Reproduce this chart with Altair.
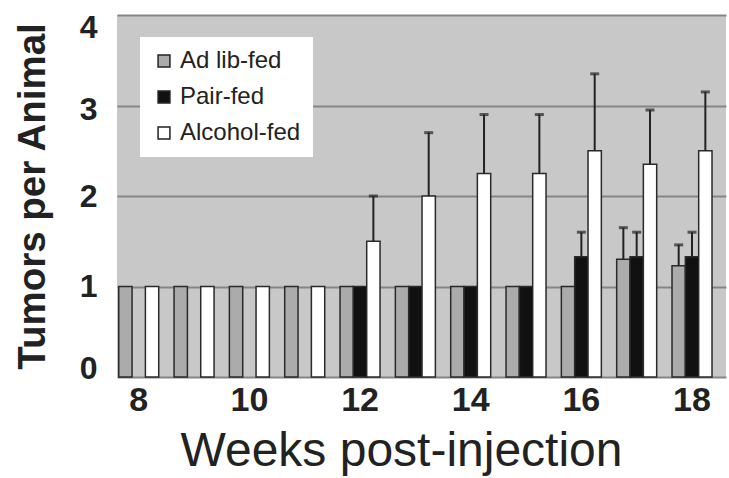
import altair as alt
import pandas as pd

weeks = [8, 9, 10, 11, 12, 13, 14, 15, 16, 17, 18]
groups = ["Ad lib-fed", "Pair-fed", "Alcohol-fed"]
ad_lib = [1, 1, 1, 1, 1, 1, 1, 1, 1, 1.3, 1.23]
ad_lib_err = [None, None, None, None, None, None, None, None, None, 0.35, 0.23]
pair_fed = [None, None, None, None, 1, 1, 1, 1, 1.33, 1.33, 1.33]
pair_fed_err = [None, None, None, None, None, None, None, None, 0.27, 0.27, 0.27]
alcohol = [1, 1, 1, 1, 1.5, 2.0, 2.25, 2.25, 2.5, 2.35, 2.5]
alcohol_err = [None, None, None, None, 0.5, 0.7, 0.65, 0.65, 0.85, 0.6, 0.65]
fills = ["#ababab", "#111111", "#ffffff"]
x_tick_values = [8, 10, 12, 14, 16, 18]
y_tick_values = [0, 1, 2, 3, 4]

rows = []
for g, vals, errs in [(groups[0], ad_lib, ad_lib_err),
                      (groups[1], pair_fed, pair_fed_err),
                      (groups[2], alcohol, alcohol_err)]:
    for w, v, e in zip(weeks, vals, errs):
        if v is None:
            continue
        rows.append({"week": w, "group": g, "value": v,
                     "top": (v + e) if e is not None else None})
df = pd.DataFrame(rows)

FONT = "Liberation Sans"

x_scale = alt.Scale(paddingInner=0.277, paddingOuter=0.142, align=0.11)
x_enc = alt.X("week:O", scale=x_scale,
              axis=alt.Axis(values=x_tick_values, labelAngle=0, ticks=False, domain=False,
                            labelFont=FONT, labelFontSize=34, labelFontWeight="bold",
                            labelColor="#222", labelPadding=6,
                            title="Weeks post-injection", titleFont=FONT,
                            titleFontSize=48, titleFontWeight="normal", titleColor="#222",
                            titleX=284, titleY=88, titleBaseline="alphabetic",
                            titleAlign="center", titleAnchor="start"))
x_plain = alt.X("week:O", scale=x_scale)
xoff = alt.XOffset("group:N", scale=alt.Scale(domain=groups, paddingInner=0, paddingOuter=0))

y_scale = alt.Scale(domain=[0, 4], nice=False)
y_enc = alt.Y("value:Q", scale=y_scale,
              axis=alt.Axis(values=y_tick_values, format="d", ticks=False, domain=False,
                            grid=True, gridColor="#858585", gridWidth=2,
                            labelFont=FONT, labelFontSize=32, labelFontWeight="bold",
                            labelColor="#222", labelPadding=20,
                            labelOffset={"condition": [
                                {"test": "datum.value === 4", "value": 12},
                                {"test": "datum.value === 3", "value": 4},
                                {"test": "datum.value === 0", "value": -9}],
                                "value": 0},
                            title="Tumors per Animal", titleFont=FONT, titleFontSize=38.5,
                            titleFontWeight="bold", titleColor="#222",
                            titleAngle=270, titleX=-73, titleY=181,
                            titleBaseline="alphabetic", titleAlign="center",
                            titleAnchor="start"))

bars = alt.Chart(df).mark_bar(stroke="#2a2a2a", strokeWidth=1.5).encode(
    x=x_enc,
    xOffset=xoff,
    y=y_enc,
    fill=alt.Fill("group:N", scale=alt.Scale(domain=groups, range=fills),
                  legend=alt.Legend(title=None, orient="none", legendX=23, legendY=22,
                                    fillColor="white", padding=12,
                                    symbolType="square", symbolSize=140,
                                    symbolStrokeColor="#222", symbolStrokeWidth=1.5,
                                    labelFont=FONT, labelFontSize=24, labelColor="#222",
                                    rowPadding=12, labelOffset=4)),
)

err_df = df.dropna(subset=["top"])
rules = alt.Chart(err_df).mark_rule(color="#222", strokeWidth=2).encode(
    x=x_plain, xOffset=xoff,
    y=alt.Y("value:Q", scale=y_scale), y2="top:Q",
)
caps = alt.Chart(err_df).mark_tick(color="#222", thickness=3, size=9, orient="horizontal").encode(
    x=x_plain, xOffset=xoff,
    y=alt.Y("top:Q", scale=y_scale),
)

chart = alt.layer(bars, rules, caps).properties(
    width=609, height=362, autosize="none",
    padding={"left": 117, "top": 15, "right": 3, "bottom": 101},
    background="white",
).configure_view(fill="#c8c8c8", stroke=None)

chart.save("out.html", embed_options={"renderer": "svg", "actions": False})
